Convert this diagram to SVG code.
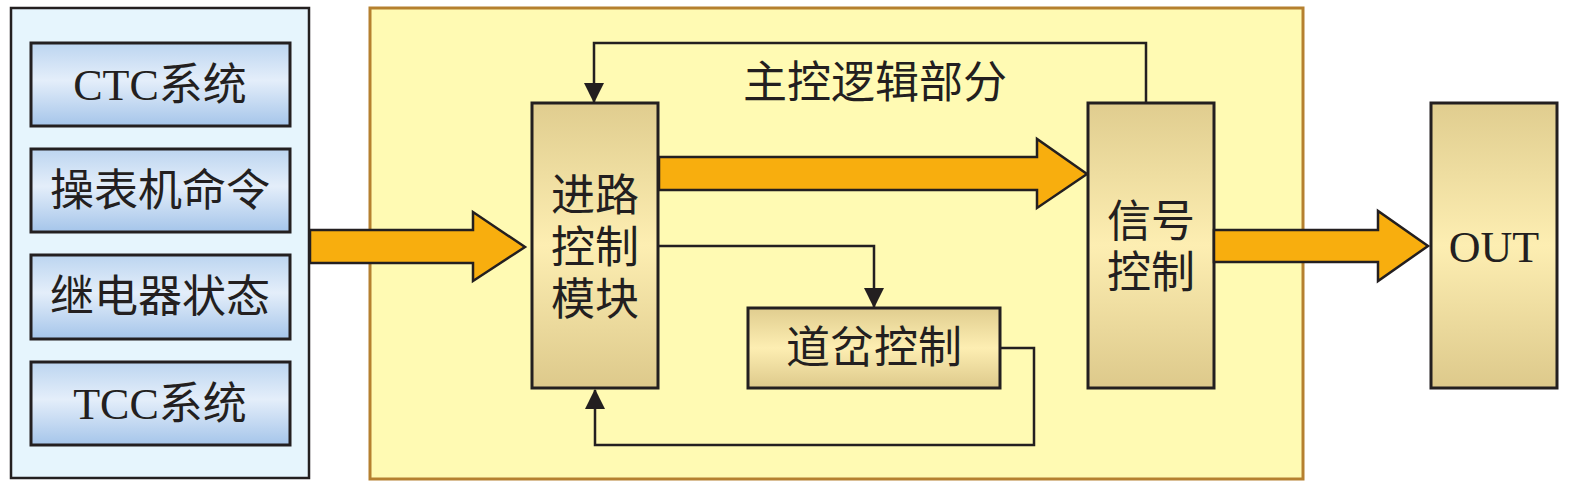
<svg xmlns="http://www.w3.org/2000/svg" width="1575" height="494" viewBox="0 0 1575 494">
<defs>
<linearGradient id="gBlue" x1="0" y1="0" x2="0" y2="1">
<stop offset="0" stop-color="#bcd5f0"/>
<stop offset="0.45" stop-color="#e4eefa"/>
<stop offset="1" stop-color="#a5c5ea"/>
</linearGradient>
<linearGradient id="gTan" x1="0" y1="0" x2="0" y2="1">
<stop offset="0" stop-color="#e0cd8f"/>
<stop offset="0.5" stop-color="#fdeeb2"/>
<stop offset="1" stop-color="#ddc98b"/>
</linearGradient>
<marker id="ah" markerUnits="userSpaceOnUse" markerWidth="20" markerHeight="20" viewBox="0 0 18 18" refX="17" refY="9" orient="auto">
<path d="M0,0 L18,9 L0,18 Z" fill="#231f20"/>
</marker>
<style>
.panelL{fill:#e6f5fd;stroke:#231f20;stroke-width:2.5}
.panelY{fill:#fffab3;stroke:#b5802f;stroke-width:3}
.blue{fill:url(#gBlue);stroke:#231f20;stroke-width:3}
.tan{fill:url(#gTan);stroke:#231f20;stroke-width:3}
.big{fill:#f8ae0e;stroke:#231f20;stroke-width:2.5;stroke-linejoin:miter}
.ln{fill:none;stroke:#231f20;stroke-width:2.5}
text{font-family:"Liberation Serif","Noto Sans CJK SC",serif;font-size:44px;fill:#231f20;text-anchor:middle;dominant-baseline:central}
</style>
</defs>

<g id="input-panel">
<rect class="panelL" x="11" y="8" width="298" height="470"/>
</g>
<g id="main-logic-panel">
<rect class="panelY" x="370" y="8" width="933" height="471"/>
<text x="875" y="83">主控逻辑部分</text>
</g>

<g id="ctc">
<rect class="blue" x="31" y="43" width="259" height="83"/>
<text x="160" y="85">CTC系统</text>
</g>
<g id="console">
<rect class="blue" x="31" y="149" width="259" height="83"/>
<text x="160" y="191">操表机命令</text>
</g>
<g id="relay">
<rect class="blue" x="31" y="255" width="259" height="84"/>
<text x="160" y="297">继电器状态</text>
</g>
<g id="tcc">
<rect class="blue" x="31" y="362" width="259" height="83"/>
<text x="160" y="404">TCC系统</text>
</g>

<g id="route-control">
<rect class="tan" x="532" y="103" width="126" height="285"/>
<text x="595" y="196">进路</text>
<text x="595" y="248">控制</text>
<text x="595" y="300">模块</text>
</g>
<g id="signal-control">
<rect class="tan" x="1088" y="103" width="126" height="285"/>
<text x="1151" y="222">信号</text>
<text x="1151" y="273">控制</text>
</g>
<g id="switch-control">
<rect class="tan" x="748" y="308" width="252" height="80"/>
<text x="874" y="348">道岔控制</text>
</g>
<g id="out">
<rect class="tan" x="1431" y="103" width="126" height="285"/>
<text x="1494" y="247">OUT</text>
</g>

<g id="connectors">
<path class="big" d="M310,230 L473,230 L473,212 L525,247 L473,281 L473,263 L310,263 Z"/>
<path class="big" d="M659,157 L1037,157 L1037,139 L1087,174 L1037,208 L1037,190 L659,190 Z"/>
<path class="big" d="M1214,230 L1378,230 L1378,211 L1428,246 L1378,281 L1378,262 L1214,262 Z"/>
<path class="ln" d="M1146,103 L1146,43 L594,43 L594,102" marker-end="url(#ah)"/>
<path class="ln" d="M659,246 L874,246 L874,307" marker-end="url(#ah)"/>
<path class="ln" d="M1000,348 L1034,348 L1034,445 L595,445 L595,390" marker-end="url(#ah)"/>
</g>
</svg>
